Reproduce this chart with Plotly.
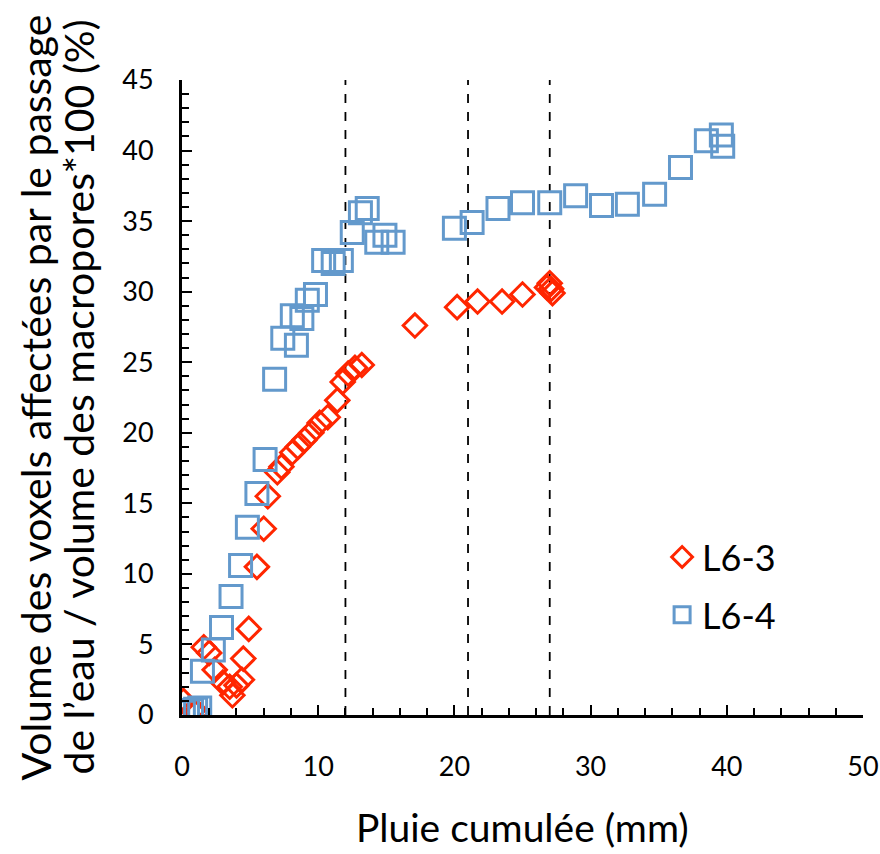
import plotly.graph_objects as go

# L6-3 (red diamonds)
x_l63 = [0.1, 0.8, 1.1, 1.6, 2.0, 2.4, 3.0, 3.5, 3.7, 4.0, 4.4, 4.5, 4.9, 5.5, 6.0, 6.3,
         7.0, 7.3, 8.1, 8.5, 9.0, 9.5, 10.1, 10.7, 11.4, 11.8, 12.2, 12.7, 13.2, 17.1,
         20.2, 21.7, 23.5, 25.0, 26.8, 27.0, 27.1, 27.2]
y_l63 = [1.0, 0.3, 0.2, 4.8, 4.4, 3.2, 2.3, 2.0, 1.4, 2.1, 2.5, 4.0, 6.1, 10.5, 13.2, 15.5,
         17.2, 17.6, 18.6, 19.0, 19.5, 20.0, 20.7, 21.1, 22.3, 23.6, 24.2, 24.6, 24.8, 27.6,
         28.9, 29.3, 29.3, 29.8, 30.3, 30.6, 30.2, 29.9]

# L6-4 (blue squares)
x_l64 = [0.1, 0.4, 0.7, 1.0, 1.3, 1.5, 2.3, 2.9, 3.6, 4.3, 4.8, 5.5, 6.1, 6.8, 7.4, 8.1,
         8.4, 8.8, 9.2, 9.8, 10.4, 11.1, 11.7, 12.5, 13.1, 13.6, 14.3, 14.9, 15.5, 20.0,
         21.3, 23.2, 25.0, 27.0, 28.9, 30.8, 32.7, 34.7, 36.6, 38.5, 39.6, 39.7]
y_l64 = [0.2, 0.3, 0.3, 0.4, 0.5, 3.1, 4.6, 6.2, 8.4, 10.6, 13.3, 15.7, 18.1, 23.8, 26.7, 28.3,
         26.2, 28.1, 29.4, 29.8, 32.2, 32.0, 32.2, 34.2, 35.6, 35.9, 33.5, 34.0, 33.5, 34.5,
         34.9, 35.9, 36.3, 36.3, 36.8, 36.1, 36.2, 36.9, 38.8, 40.7, 41.1, 40.3]

# vertical reference lines (mm)
vlines = [12, 21, 27]

y_title_lines = ["Volume des voxels affectées par le passage",
                 "de l’eau / volume des macropores*100 (%)"]
x_title = "Pluie cumulée (mm)"

RED = "#FF2600"
BLUE = "#6399CC"
FONT = "Lato"

fig = go.Figure()
fig.add_trace(go.Scatter(
    x=x_l63, y=y_l63, mode="markers", name="L6-3", legendgroup="a",
    marker=dict(symbol="diamond-open", size=18, color=RED, line=dict(width=3, color=RED)),
))
fig.add_trace(go.Scatter(
    x=x_l64, y=y_l64, mode="markers", name="L6-4", legendgroup="b",
    marker=dict(symbol="square-open", size=22, color=BLUE, line=dict(width=3, color=BLUE)),
))

for v in vlines:
    fig.add_shape(type="line", x0=v, x1=v, y0=0, y1=45, xref="x", yref="y",
                  line=dict(color="black", width=1.8, dash="dash"), layer="below")

annotations = [
    dict(text=x_title, x=0.5, y=(715 - 827) / 635, xref="paper", yref="paper",
         yanchor="middle", showarrow=False, font=dict(size=39, family=FONT)),
]
for txt, shift in zip(y_title_lines, [-147, -104]):
    annotations.append(dict(text=txt, x=0, y=0.5, xref="paper", yref="paper",
                            xanchor="center", yanchor="middle", textangle=-90,
                            showarrow=False, font=dict(size=41, family=FONT), xshift=shift))

fig.update_layout(
    width=880, height=854,
    margin=dict(l=182, r=17, t=80, b=139),
    paper_bgcolor="white", plot_bgcolor="white",
    font=dict(family=FONT, size=27, color="black"),
    showlegend=True,
    legend=dict(x=0.705, y=0.296, xanchor="left", yanchor="top",
                font=dict(size=36, family=FONT), bgcolor="rgba(0,0,0,0)",
                itemsizing="trace", tracegroupgap=8),
    xaxis=dict(range=[0, 50], dtick=10, tick0=0, showgrid=False, zeroline=False,
               showline=True, linecolor="black", linewidth=3, automargin=False,
               ticks="inside", ticklen=10, tickwidth=2, tickcolor="black",
               minor=dict(dtick=2, ticks="inside", ticklen=7, tickwidth=2, tickcolor="black"),
               ticklabelstandoff=26, tickfont=dict(size=27), ticklabeloverflow="allow"),
    yaxis=dict(range=[0, 45], dtick=5, tick0=0, showgrid=False, zeroline=False,
               showline=True, linecolor="black", linewidth=3, automargin=False,
               ticks="inside", ticklen=10, tickwidth=2, tickcolor="black",
               minor=dict(dtick=1, ticks="inside", ticklen=7, tickwidth=2, tickcolor="black"),
               ticklabelstandoff=20, tickfont=dict(size=27), ticklabeloverflow="allow"),
    annotations=annotations,
)

# remove the default 8px page margin so the figure fills the 880x854 window exactly
fig.write_html("out.html", config={"displayModeBar": False},
               post_script="document.body.style.margin='0';document.body.style.overflow='hidden';")
